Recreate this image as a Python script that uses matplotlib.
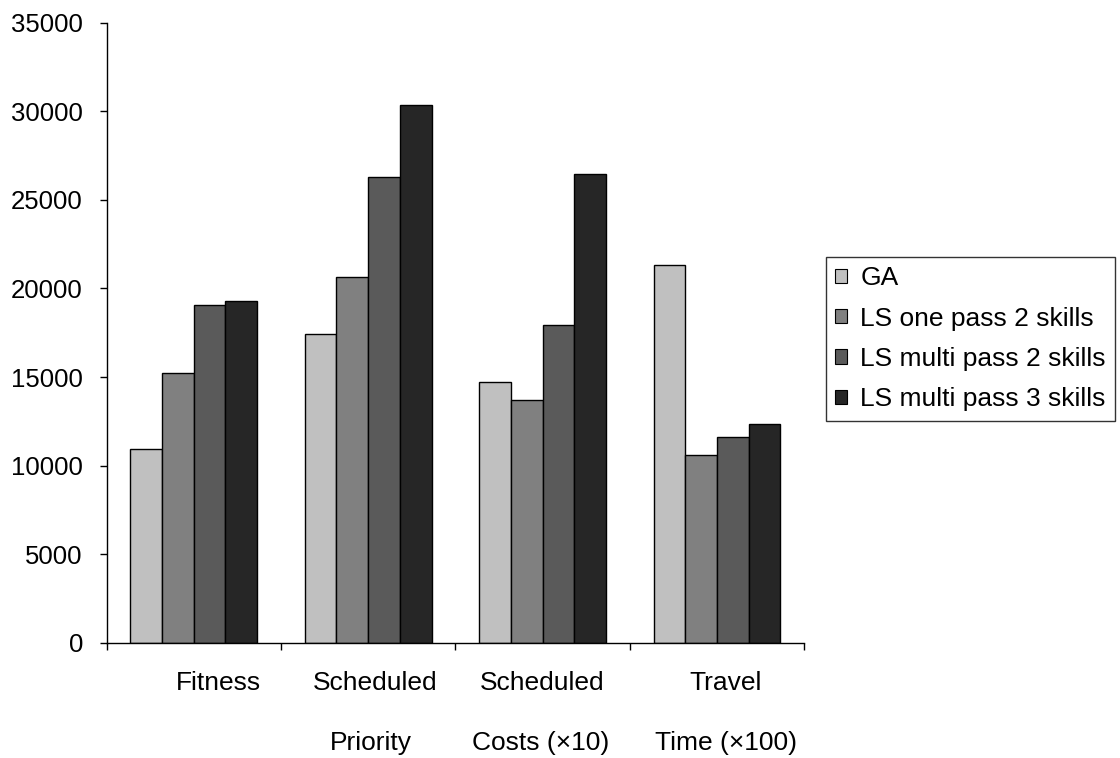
import matplotlib.pyplot as plt
import numpy as np

plt.rcParams['font.family'] = ['Liberation Sans', 'DejaVu Sans']

##############################################################################
### Data ###
series = ['GA', 'LS one pass 2 skills', 'LS multi pass 2 skills', 'LS multi pass 3 skills']
colours = ['#c0c0c0', '#808080', '#5a5a5a', '#262626']

fitness    = [10950, 15200, 19080, 19270]
sched_prio = [17400, 20660, 26300, 30340]
sched_cost = [14720, 13680, 17950, 26440]
travel     = [21300, 10590, 11590, 12350]
values = np.array([fitness, sched_prio, sched_cost, travel])

label_top = ['Fitness', 'Scheduled', 'Scheduled', 'Travel']
label_bot = ['', 'Priority', 'Costs (\u00d710)', 'Time (\u00d7100)']

##############################################################################
### Plot ###
fig = plt.figure(figsize=(11.2, 7.58), dpi=100)
ax = fig.add_axes([0.0951, 0.1521, 0.6229, 0.8179])

n_cat = values.shape[0]
n_ser = values.shape[1]
w = 1.0 / (n_ser + 1.5)   # excel style gap width 150
for j in range(n_ser):
    x = np.arange(n_cat) + 0.5 + (j - (n_ser - 1) / 2) * w
    ax.bar(x, values[:, j], width=w, color=colours[j], edgecolor='black',
           linewidth=1.0, label=series[j])

ax.set_xlim(0, n_cat)
ax.set_ylim(0, 35000)
ax.set_yticks(np.arange(0, 35001, 5000))
ax.set_xticks(np.arange(0, n_cat + 1))
ax.set_xticklabels([])
# sizes in points (dpi 100 -> 1 pt = 1.39 px)
ax.tick_params(axis='y', direction='out', length=5, width=1, pad=12, labelsize=18.5)
ax.tick_params(axis='x', direction='out', length=5, width=1)
for s in ['top', 'right']:
    ax.spines[s].set_visible(False)
for s in ['left', 'bottom']:
    ax.spines[s].set_linewidth(1)

# category labels sit a bit to the right of the groups, two rows
top_off = [0.644, 0.54, 0.50, 0.55]
bot_off = [0.0, 0.516, 0.49, 0.55]
trans = ax.get_xaxis_transform()
for i in range(n_cat):
    ax.text(i + top_off[i], -0.045, label_top[i], transform=trans,
            ha='center', va='top', fontsize=19)
    if label_bot[i]:
        ax.text(i + bot_off[i], -0.142, label_bot[i], transform=trans,
                ha='center', va='top', fontsize=19)

leg = fig.legend(loc='upper left', bbox_to_anchor=(826 / 1120, (758 - 257) / 758),
                 borderaxespad=0, fontsize=19, frameon=True, fancybox=False,
                 edgecolor='black', handlelength=0.45, handleheight=0.45,
                 handletextpad=0.5, labelspacing=0.62, borderpad=0.35)
leg.get_frame().set_linewidth(1)
for h in leg.legend_handles:
    h.set_linewidth(0.8)

plt.savefig('out.png', dpi=100)
